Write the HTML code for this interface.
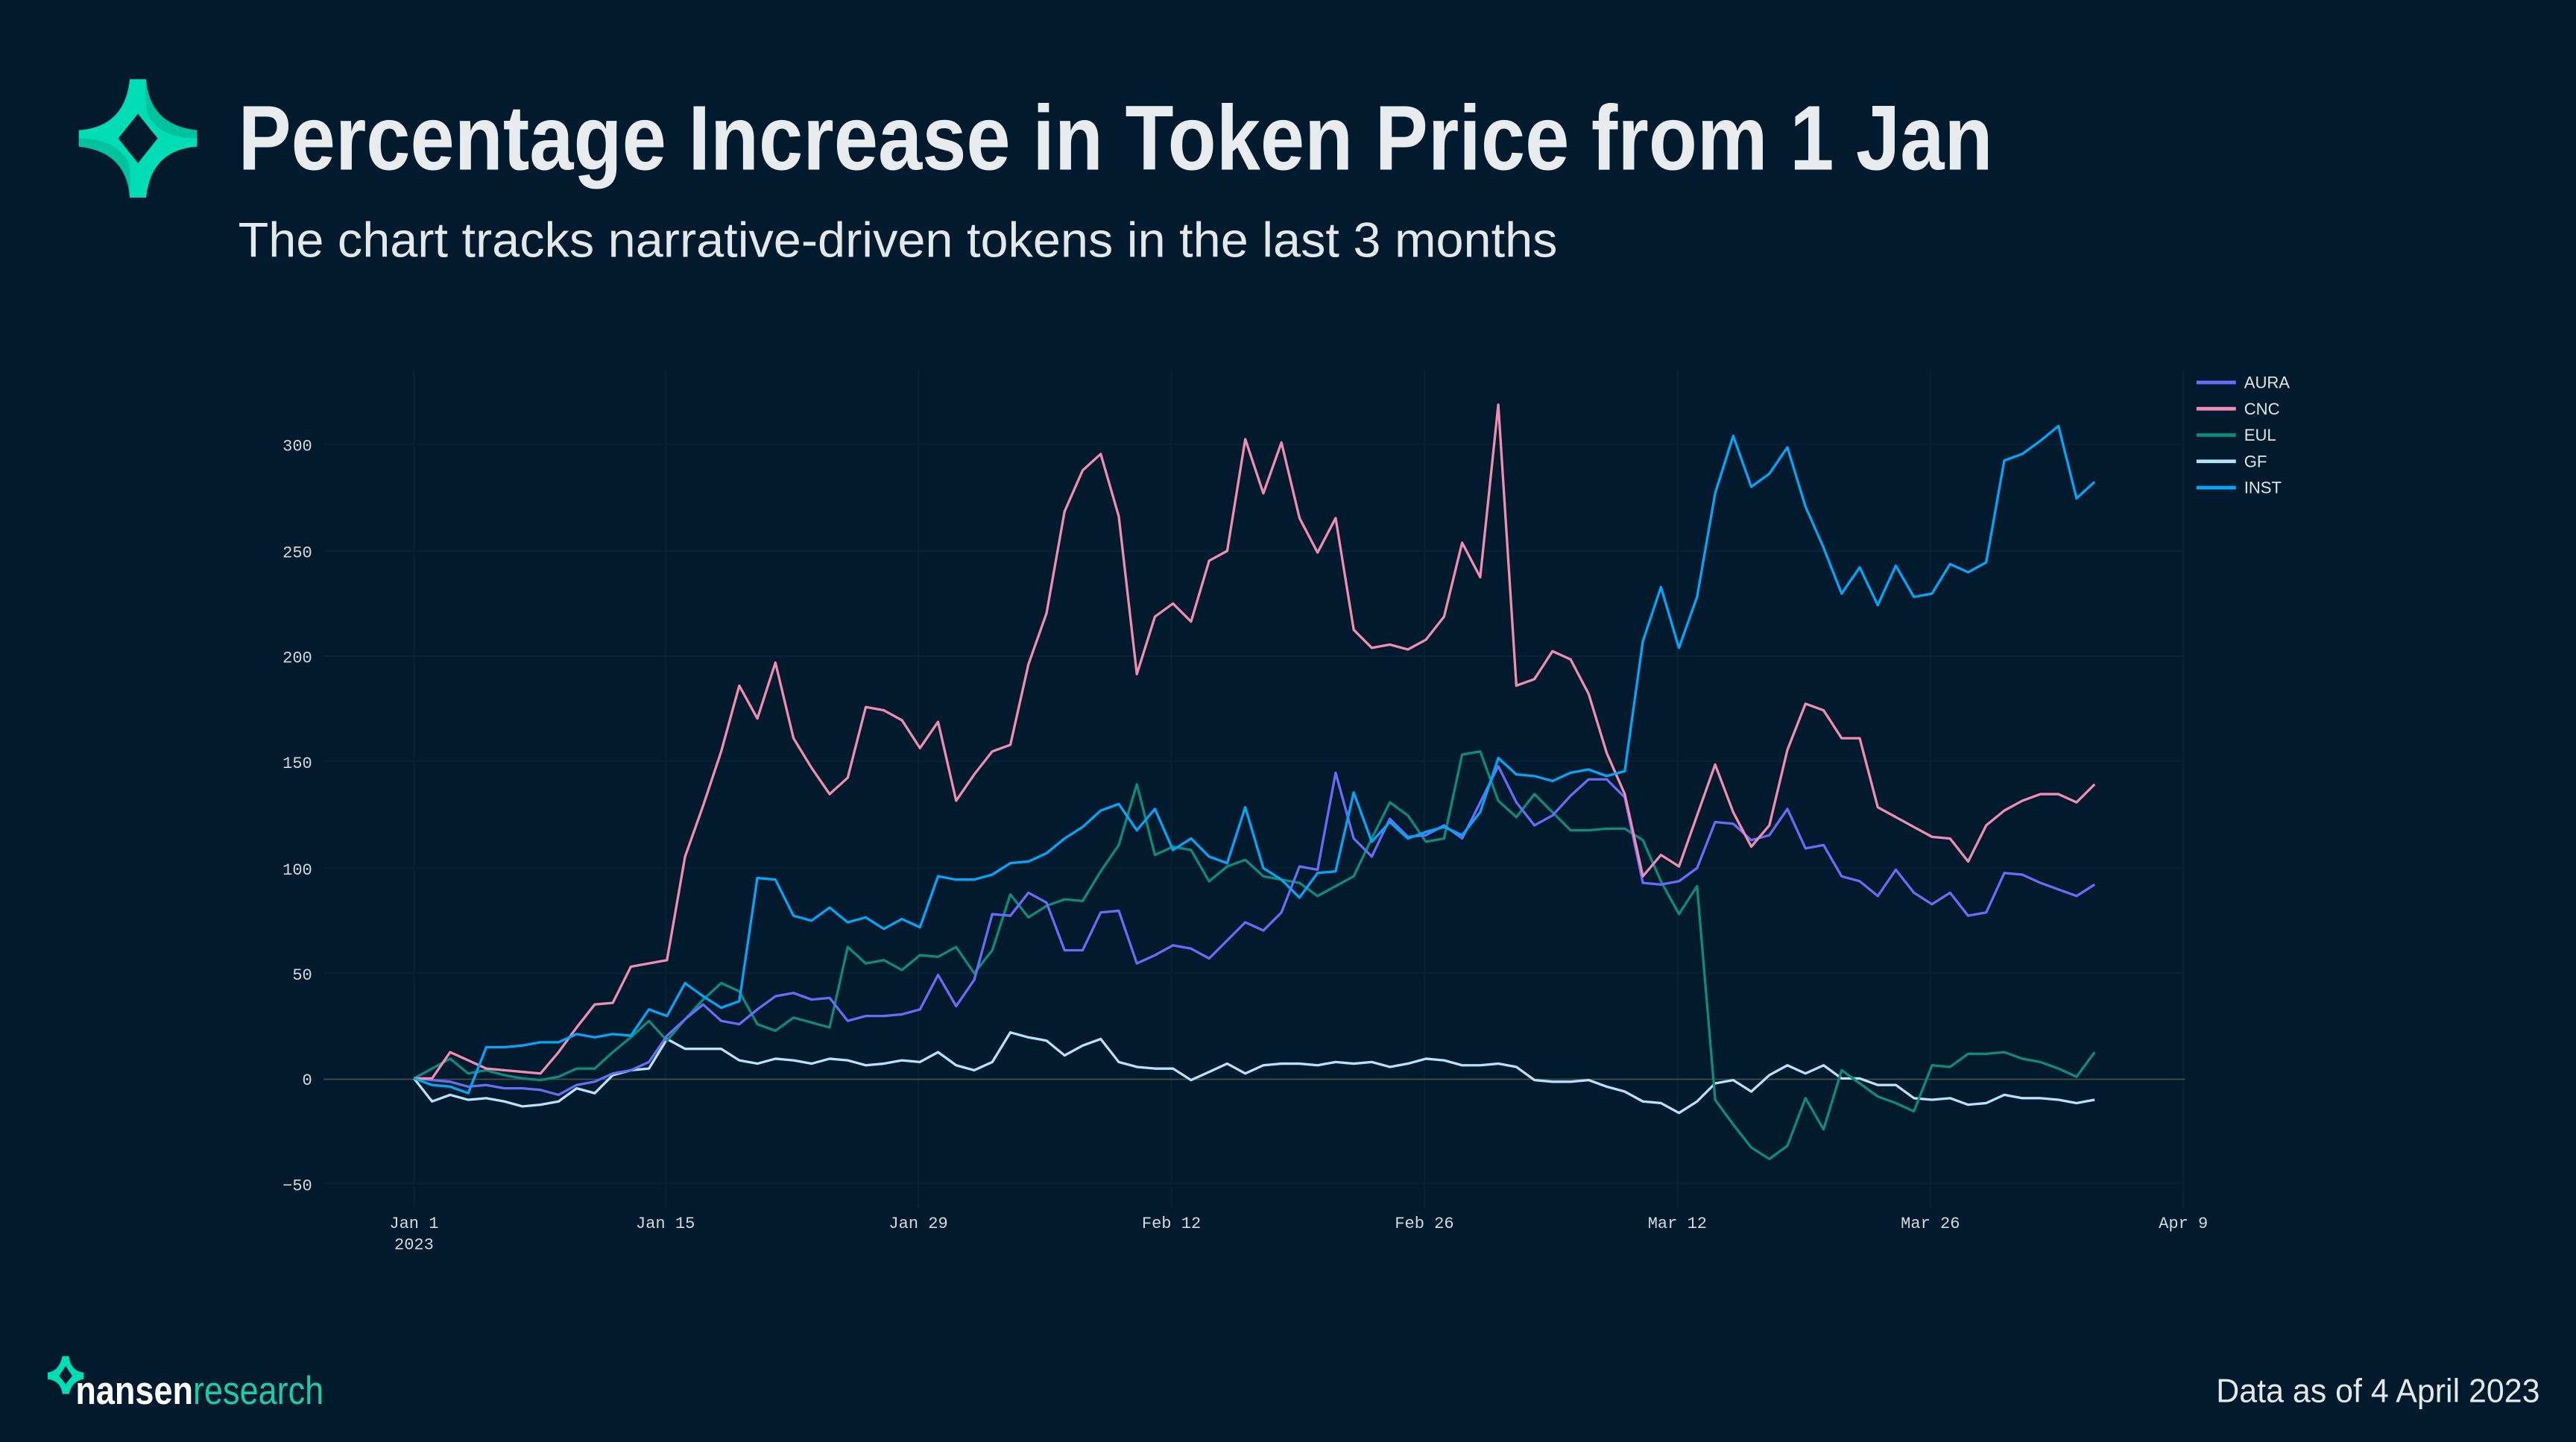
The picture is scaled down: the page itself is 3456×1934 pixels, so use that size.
<!DOCTYPE html>
<html><head><meta charset="utf-8"><style>
html,body{margin:0;padding:0;background:#011a2e;}
svg{display:block;}
</style></head><body>
<svg width="3456" height="1934" viewBox="0 0 1568 877" xmlns="http://www.w3.org/2000/svg">
<rect width="1568" height="877" fill="#011a2e"/>
<!-- logo -->
<path fill-rule="evenodd" fill="#00dcb4" d="M79,48 L89,48 Q91,76 120,79 L120,89 Q92,91 89,120 L79,120 Q77,92 48,89 L48,79 Q76,77 79,48 Z M84,69 L96,84 L84,99 L72,84 Z"/>
<path fill="#00c29f" d="M89,48 Q91,76 120,79 L120,84 Q98,84 90,70 Q88,60 89,48Z M79,120 Q77,92 48,89 L48,84 Q70,84 78,98 Q80,108 79,120Z"/>
<text x="145" y="103" font-family="Liberation Sans, sans-serif" font-weight="bold" font-size="56" fill="#e8ecef" textLength="1068" lengthAdjust="spacingAndGlyphs">Percentage Increase in Token Price from 1 Jan</text>
<text x="145" y="156" font-family="Liberation Sans, sans-serif" font-size="30" fill="#e3e8ec" textLength="803" lengthAdjust="spacingAndGlyphs">The chart tracks narrative-driven tokens in the last 3 months</text>

<!-- grid -->
<g stroke="#072234" stroke-width="1">
<line x1="197" x2="1330" y1="270" y2="270"/><line x1="197" x2="1330" y1="335" y2="335"/>
<line x1="197" x2="1330" y1="399" y2="399"/><line x1="197" x2="1330" y1="463" y2="463"/>
<line x1="197" x2="1330" y1="528" y2="528"/><line x1="197" x2="1330" y1="592" y2="592"/>
<line x1="197" x2="1330" y1="720" y2="720"/>
<line x1="252" x2="252" y1="225" y2="735"/><line x1="405" x2="405" y1="225" y2="735"/>
<line x1="559" x2="559" y1="225" y2="735"/><line x1="713" x2="713" y1="225" y2="735"/>
<line x1="867" x2="867" y1="225" y2="735"/><line x1="1021" x2="1021" y1="225" y2="735"/>
<line x1="1175" x2="1175" y1="225" y2="735"/><line x1="1329" x2="1329" y1="225" y2="735"/>
</g>
<line x1="197" x2="1330" y1="656.5" y2="656.5" stroke="#4a4c4a" stroke-width="0.8"/>

<g font-family="Liberation Mono, monospace" font-size="10" fill="#d3d9de" text-anchor="end">
<text x="190" y="274">300</text><text x="190" y="339">250</text><text x="190" y="403">200</text>
<text x="190" y="467">150</text><text x="190" y="532">100</text><text x="190" y="596">50</text>
<text x="190" y="660">0</text><text x="190" y="724">−50</text>
</g>
<g font-family="Liberation Mono, monospace" font-size="10" fill="#d3d9de" text-anchor="middle">
<text x="252" y="747">Jan 1</text><text x="252" y="760">2023</text>
<text x="405" y="747">Jan 15</text><text x="559" y="747">Jan 29</text><text x="713" y="747">Feb 12</text>
<text x="867" y="747">Feb 26</text><text x="1021" y="747">Mar 12</text><text x="1175" y="747">Mar 26</text>
<text x="1329" y="747">Apr 9</text>
</g>

<g fill="none" stroke-width="1.5" stroke-linejoin="round">
<polyline stroke="#b8e2f8" points="252,656 263,670 274,666 285,669 296,668 307,670 318,673 329,672 340,670 351,662 362,665 373,654 384,651 395,650 406,632 417,638 428,638 439,638 450,645 461,647 472,644 483,645 494,647 505,644 516,645 527,648 538,647 549,645 560,646 571,640 582,648 593,651 604,646 615,628 626,631 637,633 648,642 659,636 670,632 681,646 692,649 703,650 714,650 725,657 736,652 747,647 758,653 769,648 780,647 791,647 802,648 813,646 824,647 835,646 846,649 857,647 868,644 879,645 890,648 901,648 912,647 923,649 934,657 945,658 956,658 967,657 978,661 989,664 1000,670 1011,671 1022,677 1033,670 1044,659 1055,657 1066,664 1077,654 1088,648 1099,653 1110,648 1121,656 1132,656 1143,660 1154,660 1165,668 1176,669 1187,668 1198,672 1209,671 1220,666 1231,668 1242,668 1253,669 1264,671 1275,669"/>
<polyline stroke="#0f8a7c" points="252,656 263,650 274,644 285,653 296,651 307,654 318,656 329,657 340,655 351,650 362,650 373,640 384,631 395,621 406,633 417,620 428,608 439,598 450,603 461,623 472,627 483,619 494,622 505,625 516,576 527,586 538,584 549,590 560,581 571,582 582,576 593,592 604,578 615,544 626,558 637,551 648,547 659,548 670,530 681,514 692,477 703,520 714,515 725,517 736,536 747,527 758,523 769,533 780,535 791,537 802,545 813,539 824,533 835,510 846,488 857,496 868,512 879,510 890,459 901,457 912,487 923,497 934,483 945,494 956,505 967,505 978,504 989,504 1000,511 1011,536 1022,556 1033,539 1044,669 1055,684 1066,698 1077,705 1088,697 1099,668 1110,687 1121,651 1132,659 1143,667 1154,671 1165,676 1176,648 1187,649 1198,641 1209,641 1220,640 1231,644 1242,646 1253,650 1264,655 1275,640"/>
<polyline stroke="#656ef5" points="252,656 263,657 274,658 285,661 296,660 307,662 318,662 329,663 340,666 351,660 362,658 373,653 384,651 395,646 406,630 417,620 428,611 439,621 450,623 461,614 472,606 483,604 494,608 505,607 516,621 527,618 538,618 549,617 560,614 571,593 582,612 593,596 604,556 615,557 626,543 637,549 648,578 659,578 670,555 681,554 692,586 703,581 714,575 725,577 736,583 747,572 758,561 769,566 780,555 791,527 802,529 813,470 824,510 835,521 846,498 857,509 868,508 879,502 890,510 901,488 912,466 923,488 934,502 945,496 956,484 967,474 978,474 989,485 1000,537 1011,538 1022,536 1033,528 1044,500 1055,501 1066,511 1077,508 1088,492 1099,516 1110,514 1121,533 1132,536 1143,545 1154,529 1165,543 1176,550 1187,543 1198,557 1209,555 1220,531 1231,532 1242,537 1253,541 1264,545 1275,538"/>
<polyline stroke="#ef8db3" points="252,656 263,656 274,640 285,645 296,650 307,651 318,652 329,653 340,640 351,625 362,611 373,610 384,588 395,586 406,584 417,521 428,490 439,457 450,417 461,437 472,403 483,449 494,467 505,483 516,473 527,430 538,432 549,438 560,455 571,439 582,487 593,471 604,457 615,453 626,404 637,373 648,311 659,286 670,276 681,314 692,410 703,375 714,367 725,378 736,341 747,335 758,267 769,300 780,269 791,315 802,336 813,315 824,383 835,394 846,392 857,395 868,389 879,375 890,330 901,351 912,246 923,417 934,413 945,396 956,401 967,422 978,458 989,483 1000,533 1011,520 1022,527 1033,496 1044,465 1055,494 1066,515 1077,502 1088,456 1099,428 1110,432 1121,449 1132,449 1143,491 1154,497 1165,503 1176,509 1187,510 1198,524 1209,502 1220,493 1231,487 1242,483 1253,483 1264,488 1275,477"/>
<polyline stroke="#06a6f6" points="252,656 263,660 274,661 285,665 296,637 307,637 318,636 329,634 340,634 351,629 362,631 373,629 384,630 395,614 406,618 417,598 428,606 439,613 450,609 461,534 472,535 483,557 494,560 505,552 516,561 527,558 538,565 549,559 560,564 571,533 582,535 593,535 604,532 615,525 626,524 637,519 648,510 659,503 670,493 681,489 692,505 703,492 714,517 725,510 736,521 747,525 758,491 769,528 780,535 791,546 802,531 813,530 824,482 835,512 846,500 857,510 868,506 879,503 890,508 901,494 912,461 923,471 934,472 945,475 956,470 967,468 978,472 989,469 1000,390 1011,357 1022,394 1033,363 1044,300 1055,265 1066,296 1077,288 1088,272 1099,308 1110,333 1121,361 1132,345 1143,368 1154,344 1165,363 1176,361 1187,343 1198,348 1209,342 1220,280 1231,276 1242,268 1253,259 1264,303 1275,293"/>
</g>

<!-- legend -->
<g stroke-width="2.2">
<line x1="1337" x2="1361" y1="232.5" y2="232.5" stroke="#656ef5"/>
<line x1="1337" x2="1361" y1="248.5" y2="248.5" stroke="#ef8db3"/>
<line x1="1337" x2="1361" y1="264.5" y2="264.5" stroke="#0f8a7c"/>
<line x1="1337" x2="1361" y1="280.5" y2="280.5" stroke="#b8e2f8"/>
<line x1="1337" x2="1361" y1="296.5" y2="296.5" stroke="#06a6f6"/>
</g>
<g font-family="Liberation Sans, sans-serif" font-size="10" fill="#e0e5ea">
<text x="1366" y="236">AURA</text><text x="1366" y="252">CNC</text><text x="1366" y="268">EUL</text>
<text x="1366" y="284">GF</text><text x="1366" y="300">INST</text>
</g>

<!-- footer -->
<path fill-rule="evenodd" fill="#00dcb4" d="M38,825 L42,825 Q43,834 51,835 L51,839 Q44,840 42,848 L38,848 Q37,840 29,839 L29,835 Q36,834 38,825 Z M40,831 L44,837 L40,842 L36,837 Z"/>
<text x="46" y="854" font-family="Liberation Sans, sans-serif" font-size="24" textLength="151" lengthAdjust="spacingAndGlyphs"><tspan fill="#ffffff" font-weight="bold">nansen</tspan><tspan fill="#1ecba6">research</tspan></text>
<text x="1546" y="853" text-anchor="end" font-family="Liberation Sans, sans-serif" font-size="20" fill="#e3e8ec" textLength="197" lengthAdjust="spacingAndGlyphs">Data as of 4 April 2023</text>
</svg>
</body></html>
